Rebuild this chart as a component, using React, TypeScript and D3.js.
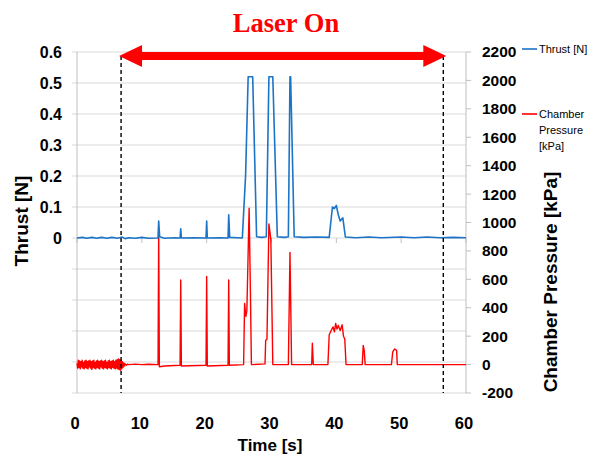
import React from "react";
import * as d3 from "d3";

// time axis ticks
const timeTicks = [0, 10, 20, 30, 40, 50, 60];
const thrustTicks = [0, 0.1, 0.2, 0.3, 0.4, 0.5, 0.6];
const thrustGrid = [-0.5, -0.4, -0.3, -0.2, -0.1, 0, 0.1, 0.2, 0.3, 0.4, 0.5, 0.6];
const pressureTicks = [-200, 0, 200, 400, 600, 800, 1000, 1200, 1400, 1600, 1800, 2000, 2200];

// laser window [s]
const laserOn = 6.8;
const laserOff = 56.5;

// thrust [N]
const thrust: [number, number][] = [
  [0, 0], [0.8, 0.002], [1.5, -0.001], [2.3, 0.002], [3, -0.001], [3.8, 0.002], [4.6, -0.001], [5.4, 0.002],
  [6.2, -0.001], [7, 0.003], [7.4, -0.002], [8, 0.001], [9, -0.001], [10, 0.002], [11, -0.001], [12.5, 0],
  [12.6, 0.055], [12.75, 0.004], [13.5, -0.001], [15, 0.001], [15.9, 0],
  [16.0, 0.03], [16.1, 0], [18, 0.001], [19.9, 0],
  [20.0, 0.055], [20.1, 0], [22, 0.001], [23.3, 0],
  [23.4, 0.075], [23.55, 0.002], [25.5, 0],
  [26.0, 0.2], [26.4, 0.52], [27.1, 0.52], [27.7, 0.004], [28.5, 0.002], [29.2, 0.004],
  [29.6, 0.52], [30.2, 0.52], [30.9, 0.004], [32.0, 0.002], [32.6, 0.004],
  [32.85, 0.52], [32.95, 0.52], [33.5, 0.004], [35, 0.002], [37, 0.003], [38.9, 0.002],
  [39.4, 0.1], [39.7, 0.095], [40.0, 0.105], [40.3, 0.075], [40.6, 0.055], [41.0, 0.065], [41.4, 0.003],
  [43, 0.001], [45, 0.003], [47, 0.001], [50, 0.003], [52, 0.001], [54, 0.003], [56, 0.001], [58, 0.002], [60, 0.001],
];

// chamber pressure [kPa]
const pressure: [number, number][] = [
  [0, 10], [0.1, -25], [0.2, 30], [0.3, -20], [0.4, 25], [0.5, -30], [0.6, 20], [0.7, -15], [0.8, 30], [0.9, -25],
  [1.0, 15], [1.1, -30], [1.2, 25], [1.3, -20], [1.4, 30], [1.5, -25], [1.6, 20], [1.7, -30], [1.8, 25], [1.9, -15],
  [2.0, 30], [2.1, -25], [2.2, 20], [2.3, -35], [2.4, 25], [2.5, -20], [2.6, 30], [2.7, -25], [2.8, 15], [2.9, -30],
  [3.0, 25], [3.1, -20], [3.2, 30], [3.3, -25], [3.4, 20], [3.5, -30], [3.6, 25], [3.7, -15], [3.8, 30], [3.9, -25],
  [4.0, 20], [4.1, -30], [4.2, 25], [4.3, -20], [4.4, 30], [4.5, -25], [4.6, 15], [4.7, -30], [4.8, 25], [4.9, -20],
  [5.0, 30], [5.1, -25], [5.2, 20], [5.3, -30], [5.4, 25], [5.5, -20], [5.6, 30], [5.7, -25], [5.8, 20], [5.9, -30],
  [6.0, 30], [6.1, -25], [6.2, 35], [6.3, -30], [6.4, 40], [6.5, -35], [6.6, 35], [6.7, -40], [6.8, 30], [6.9, -30],
  [7.0, 20], [7.1, -20], [7.2, 12], [7.3, -10], [7.4, 6], [7.6, -4], [7.8, 3],
  [8, 0], [9, 3], [10, 0], [11, 2], [12.5, 0],
  [12.6, 950], [12.7, -15], [13.5, -10], [15.9, -5],
  [16.0, 595], [16.1, -10], [19.9, -5],
  [20.0, 620], [20.1, -10], [23.3, -5],
  [23.4, 595], [23.5, -5], [25.7, 0],
  [25.85, 430], [26.05, 340], [26.2, 380], [26.55, 1100], [26.75, 500], [26.9, 0],
  [29.0, 5], [29.1, 170], [29.3, 180], [29.6, 990], [29.9, 880], [30.2, 0],
  [32.6, 0], [32.85, 790], [33.1, 0],
  [36.2, 0], [36.3, 150], [36.45, 0], [38.7, 0],
  [38.9, 210], [39.2, 240], [39.5, 265], [39.7, 230], [39.9, 290], [40.1, 250], [40.3, 275], [40.6, 240],
  [40.9, 280], [41.1, 200], [41.3, 180], [41.5, 0],
  [44.0, 0], [44.15, 135], [44.3, 100], [44.45, 0],
  [48.5, 0], [48.7, 90], [49.0, 110], [49.3, 100], [49.4, 0],
  [52, 0], [56, 0], [60, 0],
];

const W = 591;
const H = 455;
const left = 77, right = 466, top = 52, bottom = 393;

const font = "'Liberation Sans', Arial, sans-serif";
const blue = "#1c74c6";
const red = "#ff0000";

export default function App() {
  const x = d3.scaleLinear().domain([0, 60]).range([left, right]);
  const yT = d3.scaleLinear().domain([-0.5, 0.6]).range([bottom, top]);
  const yP = d3.scaleLinear().domain([-200, 2200]).range([bottom, top]);

  const thrustLine = d3.line<[number, number]>().x((d) => x(d[0])).y((d) => yT(d[1]));
  const pressLine = d3.line<[number, number]>().x((d) => x(d[0])).y((d) => yP(d[1]));

  const arrowY = 56;
  const tipL = x(laserOn) - 2;
  const tipR = x(laserOff) + 3;
  const head = 23;

  return (
    <svg width={W} height={H} style={{ position: "absolute", left: 0, top: 0, background: "#fff" }}>
      {/* gridlines */}
      {thrustGrid.map((v) => (
        <line key={v} x1={left - 5} x2={right} y1={yT(v)} y2={yT(v)} stroke="#d9d9d9" strokeWidth={1} />
      ))}
      {/* left axis */}
      <line x1={left} x2={left} y1={top} y2={bottom} stroke="#bfbfbf" />
      {/* right axis */}
      <line x1={right} x2={right} y1={top} y2={bottom} stroke="#bfbfbf" />
      {pressureTicks.map((v) => (
        <line key={v} x1={right} x2={right + 5} y1={yP(v)} y2={yP(v)} stroke="#bfbfbf" />
      ))}
      {/* time ticks on zero thrust line */}
      {timeTicks.map((t) => (
        <line key={t} x1={x(t)} x2={x(t)} y1={yT(0)} y2={yT(0) + 5} stroke="#bfbfbf" />
      ))}

      {/* tick labels */}
      {thrustTicks.map((v) => (
        <text key={v} x={62} y={yT(v)} dy="0.35em" textAnchor="end" fontFamily={font} fontWeight="bold" fontSize={16}>
          {v === 0 ? "0" : v.toFixed(1)}
        </text>
      ))}
      {pressureTicks.map((v) => (
        <text key={v} x={482} y={yP(v)} dy="0.35em" textAnchor="start" fontFamily={font} fontWeight="bold" fontSize={15.5}>
          {v}
        </text>
      ))}
      {timeTicks.map((t) => (
        <text key={t} x={x(t) - 2} y={429} textAnchor="middle" fontFamily={font} fontWeight="bold" fontSize={16.5}>
          {t}
        </text>
      ))}

      {/* axis titles */}
      <text x={270} y={451} textAnchor="middle" fontFamily={font} fontWeight="bold" fontSize={17}>
        Time [s]
      </text>
      <text transform="translate(28,221) rotate(-90)" textAnchor="middle" fontFamily={font} fontWeight="bold" fontSize={19}>
        Thrust [N]
      </text>
      <text transform="translate(557,282) rotate(-90)" textAnchor="middle" fontFamily={font} fontWeight="bold" fontSize={19}>
        Chamber Pressure [kPa]
      </text>

      {/* data */}
      <path d={pressLine(pressure) ?? ""} fill="none" stroke={red} strokeWidth={1.4} strokeLinejoin="round" />
      <path d={thrustLine(thrust) ?? ""} fill="none" stroke={blue} strokeWidth={1.6} strokeLinejoin="round" />

      {/* laser window */}
      {[laserOn, laserOff].map((t) => (
        <line key={t} x1={x(t)} x2={x(t)} y1={arrowY} y2={bottom} stroke="#000" strokeWidth={1.4} strokeDasharray="4,3" />
      ))}
      <rect x={tipL + head - 1} y={arrowY - 4} width={tipR - tipL - 2 * head + 2} height={8} fill={red} />
      <polygon points={`${tipL},${arrowY} ${tipL + head},${arrowY - 11} ${tipL + head},${arrowY + 11}`} fill={red} />
      <polygon points={`${tipR},${arrowY} ${tipR - head},${arrowY - 11} ${tipR - head},${arrowY + 11}`} fill={red} />
      <text x={286} y={32} textAnchor="middle" fontFamily="'Liberation Serif', 'Times New Roman', serif" fontWeight="bold" fontSize={26.5} fill={red}>
        Laser On
      </text>

      {/* legend */}
      <line x1={522} x2={537} y1={49} y2={49} stroke={blue} strokeWidth={1.6} />
      <text x={539} y={49} dy="0.35em" fontFamily={font} fontSize={11}>
        Thrust [N]
      </text>
      <line x1={522} x2={537} y1={114} y2={114} stroke={red} strokeWidth={1.6} />
      {["Chamber", "Pressure", "[kPa]"].map((s, i) => (
        <text key={s} x={539} y={114 + i * 16} dy="0.35em" fontFamily={font} fontSize={11}>
          {s}
        </text>
      ))}
    </svg>
  );
}
